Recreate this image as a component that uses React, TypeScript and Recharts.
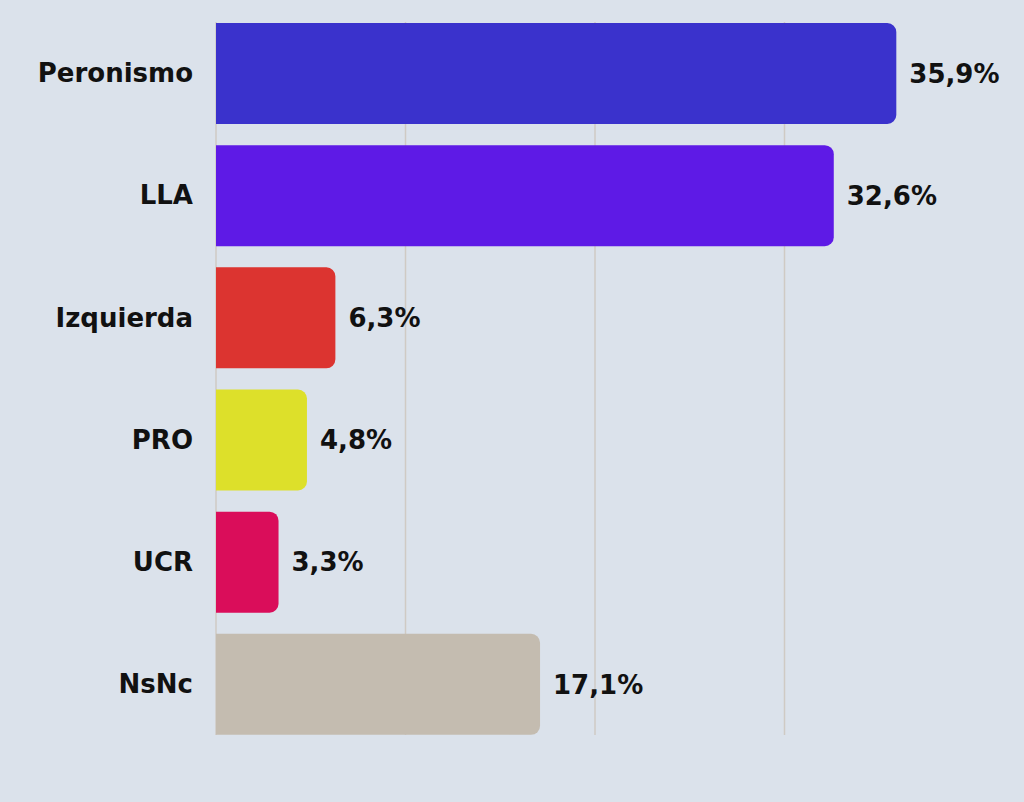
import { BarChart, Bar, XAxis, YAxis, CartesianGrid, LabelList, Cell } from "recharts";

const parties = ["Peronismo", "LLA", "Izquierda", "PRO", "UCR", "NsNc"];
const shares = [35.9, 32.6, 6.3, 4.8, 3.3, 17.1];
const colors = ["#3a32cc", "#5e1ae6", "#dc3430", "#dde02a", "#da0d5a", "#c4bcb0"];
const gridTicks = [0, 10, 20, 30];

const data = parties.map((name, i) => ({ name, value: shares[i] }));

const fmt = (v: number) => v.toFixed(1).replace(".", ",") + "%";

const font = "'DejaVu Sans', sans-serif";

const App = () => {
  return (
    <div
      style={{
        position: "absolute",
        left: 0,
        top: 0,
        width: 1024,
        height: 802,
        background: "#dbe2eb",
      }}
    >
      <BarChart
        width={1024}
        height={802}
        data={data}
        layout="vertical"
        margin={{ top: 22, right: 50, left: 0, bottom: 67 }}
      >
        <CartesianGrid
          horizontal={false}
          verticalValues={gridTicks}
          stroke="#cfcac4"
          strokeWidth={1.5}
        />
        <XAxis type="number" hide domain={[0, 40]} ticks={gridTicks} />
        <YAxis
          type="category"
          dataKey="name"
          width={216}
          axisLine={false}
          tickLine={false}
          tickSize={0}
          tickMargin={23}
          padding={{ top: -10, bottom: -10 }}
          tick={{ fill: "#111", fontSize: 26, fontWeight: 700, fontFamily: font }}
        />
        <Bar dataKey="value" barSize={101} radius={[0, 9, 9, 0]} isAnimationActive={false}>
          {data.map((d, i) => (
            <Cell key={d.name} fill={colors[i]} />
          ))}
          <LabelList
            dataKey="value"
            position="right"
            offset={13}
            formatter={(v: any) => fmt(Number(v))}
            style={{ fill: "#111", fontSize: 26, fontWeight: 700, fontFamily: font }}
          />
        </Bar>
      </BarChart>
    </div>
  );
};

export default App;
